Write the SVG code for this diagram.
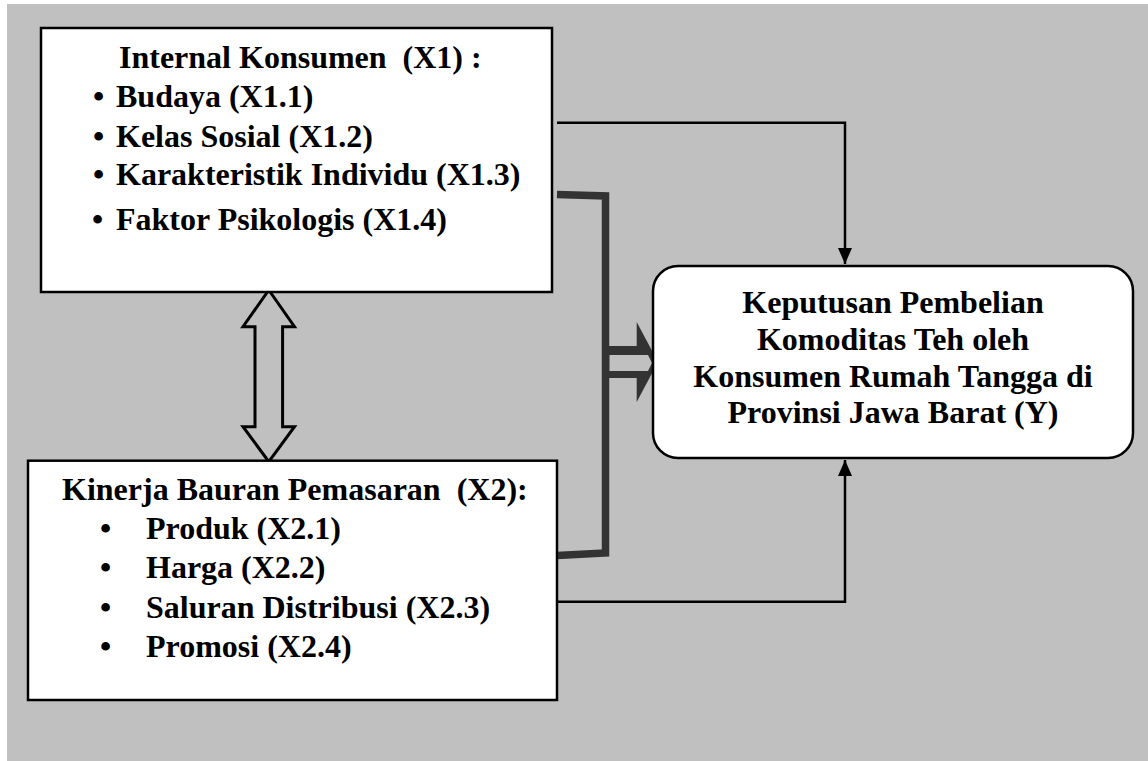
<svg xmlns="http://www.w3.org/2000/svg" width="1148" height="761" viewBox="0 0 1148 761">
  <style>
    .box { fill: #ffffff; stroke: #000000; stroke-width: 2.5; }
    .t { font-family: "Liberation Serif", "Times New Roman", serif; font-weight: bold; font-size: 32px; fill: #000000; white-space: pre; }
    .c { text-anchor: middle; }
    .thin { fill: none; stroke: #000000; stroke-width: 2.5; }
    .thick { fill: none; stroke: #333333; stroke-width: 7.5; stroke-linejoin: miter; }
    .dark { fill: #333333; }
    .bg { fill: #c0c0c0; }
  </style>
  <defs>
    <marker id="head" viewBox="0 0 16 14" markerWidth="16" markerHeight="14" refX="16" refY="7" orient="auto" markerUnits="userSpaceOnUse">
      <path d="M0,0 L16,7 L0,14 Z" fill="#000000"/>
    </marker>
  </defs>

  <!-- page background -->
  <rect x="0" y="0" width="1148" height="761" fill="#ffffff"/>
  <rect class="bg" x="7" y="4" width="1141" height="757"/>

  <!-- connectors -->
  <g id="connectors">
    <!-- X1 -> Y -->
    <path class="thin" d="M557,122.7 H845 V264" marker-end="url(#head)"/>
    <!-- X2 -> Y -->
    <path class="thin" d="M557,601.7 H845 V460" marker-end="url(#head)"/>
    <!-- joint bracket X1 + X2 -> Y -->
    <path class="thick" d="M557,194.5 L605.5,196 V553 L557,555.5"/>
    <g id="joint-arrow">
      <rect class="dark" x="605" y="346" width="35" height="32"/>
      <path class="dark" d="M636.7,322 L658,362 L636.7,402 Z"/>
      <path class="bg" d="M609.5,355 H648 L652,363 L648,371 H609.5 Z"/>
    </g>
    <!-- X1 <-> X2 -->
    <path id="x1-x2" d="M268.8,290 L294.5,326.7 H282.6 V426.7 H294.5 L268.8,461.7 L243,426.7 H255 V326.7 H243 Z" fill="#c0c0c0" stroke="#000000" stroke-width="3" stroke-linejoin="miter"/>
  </g>

  <!-- X1 -->
  <g id="node-x1">
    <rect class="box" x="41" y="28" width="511" height="264"/>
    <text class="t" x="119" y="68">Internal Konsumen  (X1) :</text>
    <text class="t" x="93" y="107">•</text>
    <text class="t" x="116" y="107">Budaya (X1.1)</text>
    <text class="t" x="93" y="147">•</text>
    <text class="t" x="116" y="147">Kelas Sosial (X1.2)</text>
    <text class="t" x="93" y="185">•</text>
    <text class="t" x="116" y="185">Karakteristik Individu (X1.3)</text>
    <text class="t" x="92" y="230" font-size="36">•</text>
    <text class="t" x="116" y="230">Faktor Psikologis (X1.4)</text>
  </g>

  <!-- X2 -->
  <g id="node-x2">
    <rect class="box" x="28" y="460.7" width="529" height="239.3"/>
    <text class="t" x="62" y="500">Kinerja Bauran Pemasaran  (X2):</text>
    <text class="t" x="100" y="539">•</text>
    <text class="t" x="146" y="539">Produk (X2.1)</text>
    <text class="t" x="100" y="578">•</text>
    <text class="t" x="146" y="578">Harga (X2.2)</text>
    <text class="t" x="100" y="618">•</text>
    <text class="t" x="146" y="618">Saluran Distribusi (X2.3)</text>
    <text class="t" x="100" y="657">•</text>
    <text class="t" x="146" y="657">Promosi (X2.4)</text>
  </g>

  <!-- Y -->
  <g id="node-y">
    <rect class="box" x="653" y="266" width="480" height="192" rx="25" ry="25"/>
    <text class="t c" x="893" y="313">Keputusan Pembelian</text>
    <text class="t c" x="893" y="350">Komoditas Teh oleh</text>
    <text class="t c" x="893" y="387">Konsumen Rumah Tangga di</text>
    <text class="t c" x="893" y="423">Provinsi Jawa Barat (Y)</text>
  </g>
</svg>
